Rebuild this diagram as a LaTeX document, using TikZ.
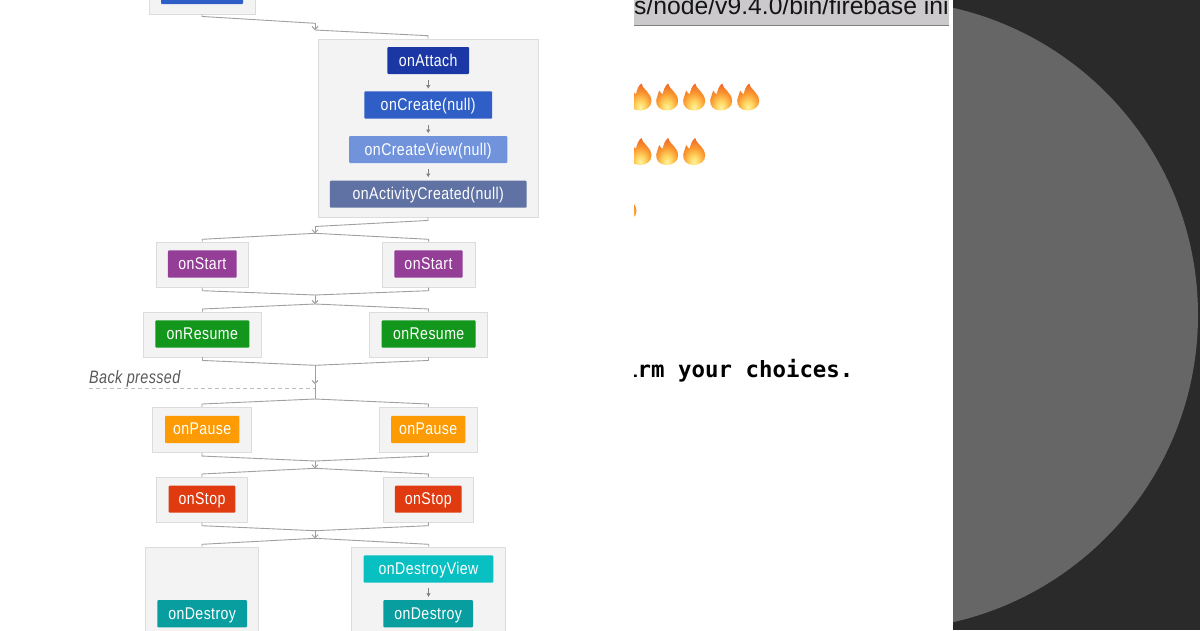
\documentclass[tikz,border=0pt]{standalone}
\usepackage{fontspec}
\setmainfont{Liberation Sans}
\newfontfamily\condfont[FakeStretch=0.83,LetterSpace=2.5]{Liberation Sans}
\newfontfamily\backfont[FakeStretch=0.8,LetterSpace=2.2]{Liberation Sans}
\newfontfamily\monobold{DejaVu Sans Mono Bold}
\usetikzlibrary{arrows.meta,shadings}
\definecolor{contfill}{HTML}{F3F3F3}
\definecolor{contline}{HTML}{DCDCDC}
\definecolor{linkgray}{HTML}{A0A0A0}
\definecolor{cAttach}{HTML}{1A37A5}
\definecolor{cCreate}{HTML}{2F5FC6}
\definecolor{cView}{HTML}{7093DC}
\definecolor{cActivity}{HTML}{5F72A3}
\definecolor{cStart}{HTML}{953E97}
\definecolor{cResume}{HTML}{12961C}
\definecolor{cPause}{HTML}{FD9B05}
\definecolor{cStop}{HTML}{E03B10}
\definecolor{cDView}{HTML}{08BFC2}
\definecolor{cDestroy}{HTML}{089D9F}
\definecolor{panelgray}{HTML}{CBC9CC}
\definecolor{darkbg}{HTML}{2A2A2A}
\definecolor{circlegray}{HTML}{666666}
\pgfdeclareradialshading{flameshade}{\pgfpoint{0bp}{-20bp}}{%
  rgb(0bp)=(1,0.95,0.65);
  rgb(10bp)=(1,0.84,0.38);
  rgb(24bp)=(0.98,0.58,0.18);
  rgb(44bp)=(0.91,0.32,0.16);
  rgb(100bp)=(0.88,0.25,0.15)}
\tikzset{
  x=1pt,y=-1pt,
  cont/.style={draw=contline,fill=contfill,line width=0.9pt,inner sep=0,anchor=center},
  box/.style={fill=#1,text=white,rounded corners=1pt,inner sep=0,anchor=center,text height=13.5pt,text depth=2.5pt,font=\condfont\fontsize{17}{18}\selectfont},
  link/.style={draw=linkgray,line width=0.9pt},
  linkarrow/.style={draw=linkgray,line width=0.9pt,-{Straight Barb[length=3pt,width=6pt]}},
  innerarrow/.style={draw=gray,line width=0.7pt,-{Latex[length=3.5pt,width=4.5pt]}},
  flamemark/.pic={
    \path[shading=flameshade]
      (1.5,-13.5) .. controls (2,-8) and (11,-5) .. (11.5,4)
      .. controls (11.5,10) and (6,13.5) .. (0,13.5)
      .. controls (-7,13.5) and (-11,9) .. (-10.5,3)
      .. controls (-10.3,0) and (-8,-3) .. (-7.5,-6.5)
      .. controls (-6,-4) and (-5,-3) .. (-4,-3)
      .. controls (-3,-7) and (-2,-11) .. (1.5,-13.5) -- cycle;
  }
}
\begin{document}
\begin{tikzpicture}
\useasboundingbox (0,0) rectangle (1200,630);
\clip (0,0) rectangle (1200,630);
% right dark area
\fill[white] (0,0) rectangle (953,630);
\fill[darkbg] (953,0) rectangle (1200,630);
\begin{scope}
  \clip (953,0) rectangle (1200,630);
  \fill[circlegray] (883,315) circle[radius=315];
\end{scope}
% terminal panel
\fill[panelgray] (634,0) rectangle (949,25);
\fill[gray] (634,24.8) rectangle (949,25.8);
\begin{scope}
  \clip (634,0) rectangle (949,30);
  \node[anchor=base west,inner sep=0,text=black!92,font=\fontsize{24.7}{26}\selectfont] (cmdline) at (634,14.5) {s/node/v9.4.0/bin/firebase ini};
\end{scope}
\begin{scope}
  \clip (634,60) rectangle (949,400);
  \foreach \fx in {640,666.7,693.7,720.7,747.7} \pic at (\fx,97) {flamemark};
  \foreach \fx in {640,666.7,693.7} \pic at (\fx,151.5) {flamemark};
  \pic at (625,207) {flamemark};
  \node[anchor=base west,inner sep=0,text=black,font=\monobold\fontsize{22.4}{24}\selectfont] (choices) at (624,377) {irm your choices.};
\end{scope}
% containers
\node[cont,minimum width=106,minimum height=54] (c0) at (202,-13) {};
\node[fill=cCreate,rounded corners=1pt,inner sep=0,minimum width=82,minimum height=28] (b0) at (202,-10) {};
\node[cont,minimum width=220,minimum height=178] (c1) at (428,128) {};
\node[box=cAttach,minimum width=81.7,minimum height=27] (attach) at (428.2,60.5) {onAttach};
\node[box=cCreate,minimum width=127.7,minimum height=27.4] (create) at (428.2,105) {onCreate(null)};
\node[box=cView,minimum width=158.3,minimum height=27] (cview) at (428.2,149.5) {onCreateView(null)};
\node[box=cActivity,minimum width=196.7,minimum height=27] (activity) at (428.3,194.2) {onActivityCreated(null)};
\node[cont,minimum width=92.3,minimum height=45.3] (c2l) at (202.2,264.6) {};
\node[cont,minimum width=92.7,minimum height=45.3] (c2r) at (428.6,264.6) {};
\node[box=cStart,minimum width=68.7,minimum height=27.4] (startl) at (202.3,264) {onStart};
\node[box=cStart,minimum width=68.4,minimum height=27.4] (startr) at (428.5,264) {onStart};
\node[cont,minimum width=118.4,minimum height=45] (c3l) at (202.5,334.5) {};
\node[cont,minimum width=118.4,minimum height=45] (c3r) at (428.5,334.5) {};
\node[box=cResume,minimum width=94,minimum height=27.4] (resumel) at (202.3,334) {onResume};
\node[box=cResume,minimum width=94,minimum height=27.4] (resumer) at (428.7,334) {onResume};
\node[cont,minimum width=98.6,minimum height=45] (c4l) at (202,429.8) {};
\node[cont,minimum width=98.7,minimum height=45] (c4r) at (428.3,429.8) {};
\node[box=cPause,minimum width=74.3,minimum height=27.3] (pausel) at (202.2,429.4) {onPause};
\node[box=cPause,minimum width=74.3,minimum height=27.3] (pauser) at (428.2,429.4) {onPause};
\node[cont,minimum width=91.4,minimum height=44.7] (c5l) at (202,499.6) {};
\node[cont,minimum width=90.7,minimum height=44.7] (c5r) at (428.3,499.6) {};
\node[box=cStop,minimum width=66.6,minimum height=27] (stopl) at (202,499.2) {onStop};
\node[box=cStop,minimum width=66.7,minimum height=27] (stopr) at (428.3,499.2) {onStop};
\node[cont,minimum width=113.4,minimum height=113] (c6l) at (202,603.5) {};
\node[cont,minimum width=154,minimum height=113] (c6r) at (428.7,603.5) {};
\node[box=cDView,minimum width=129.6,minimum height=27.4] (dview) at (428.5,569) {onDestroyView};
\node[box=cDestroy,minimum width=89.7,minimum height=27.3] (destroyl) at (202.2,613.7) {onDestroy};
\node[box=cDestroy,minimum width=89.7,minimum height=27.3] (destroyr) at (428.2,613.7) {onDestroy};
% junction coordinates
\coordinate (j0a) at (315,23.3);
\coordinate (j0b) at (315,30);
\coordinate (j1a) at (315,226.5);
\coordinate (j1b) at (315,233.3);
\coordinate (j2a) at (315,295);
\coordinate (j2b) at (315,304);
\coordinate (j3a) at (315,365.3);
\coordinate (j3b) at (315,399);
\coordinate (j3m) at (315,384);
\coordinate (j4a) at (315,461);
\coordinate (j4b) at (315,468.3);
\coordinate (j5a) at (315,530.7);
\coordinate (j5b) at (315,538.3);
% connectors
\draw[link] (c0.south) -- ++(0,2) -- (j0a);
\draw[linkarrow] (j0a) -- (j0b);
\draw[link] (j0b) -- (c1.north |- 0,35.7) -- (c1.north);
\draw[link] (c1.south) -- ++(0,3) -- (j1a);
\draw[linkarrow] (j1a) -- (j1b);
\draw[link] (j1b) -- (c2l.north |- 0,239.3) -- (c2l.north);
\draw[link] (j1b) -- (c2r.north |- 0,239.3) -- (c2r.north);
\draw[link] (c2l.south) -- ++(0,3) -- (j2a);
\draw[link] (c2r.south) -- ++(0,3) -- (j2a);
\draw[linkarrow] (j2a) -- (j2b);
\draw[link] (j2b) -- (c3l.north |- 0,309) -- (c3l.north);
\draw[link] (j2b) -- (c3r.north |- 0,309) -- (c3r.north);
\draw[link] (c3l.south) -- ++(0,3) -- (j3a);
\draw[link] (c3r.south) -- ++(0,3) -- (j3a);
\draw[linkarrow] (j3a) -- (j3m);
\draw[link] (j3m) -- (j3b);
\draw[link] (j3b) -- (c4l.north |- 0,404) -- (c4l.north);
\draw[link] (j3b) -- (c4r.north |- 0,404) -- (c4r.north);
\draw[link] (c4l.south) -- ++(0,3.3) -- (j4a);
\draw[link] (c4r.south) -- ++(0,3.3) -- (j4a);
\draw[linkarrow] (j4a) -- (j4b);
\draw[link] (j4b) -- (c5l.north |- 0,474) -- (c5l.north);
\draw[link] (j4b) -- (c5r.north |- 0,474) -- (c5r.north);
\draw[link] (c5l.south) -- ++(0,3.3) -- (j5a);
\draw[link] (c5r.south) -- ++(0,3.3) -- (j5a);
\draw[linkarrow] (j5a) -- (j5b);
\draw[link] (j5b) -- (c6l.north |- 0,544.3) -- (c6l.north);
\draw[link] (j5b) -- (c6r.north |- 0,544.3) -- (c6r.north);
% inner arrows
\draw[innerarrow] (attach.south) ++(0,6) -- ++(0,8.5);
\draw[innerarrow] (create.south) ++(0,6.3) -- ++(0,8);
\draw[innerarrow] (cview.south) ++(0,6) -- ++(0,8);
\draw[innerarrow] (dview.south) ++(0,5.5) -- ++(0,8.5);
% back pressed
\coordinate (dashstart) at (89,388.3);
\draw[draw=linkgray!70,line width=1pt,dash pattern=on 4pt off 3pt] (dashstart) -- (j3m |- dashstart);
\node[anchor=base west,inner sep=0,text=black!65,font=\backfont\itshape\fontsize{18}{20}\selectfont] (back) at (89,383) {Back pressed};
\end{tikzpicture}
\end{document}
